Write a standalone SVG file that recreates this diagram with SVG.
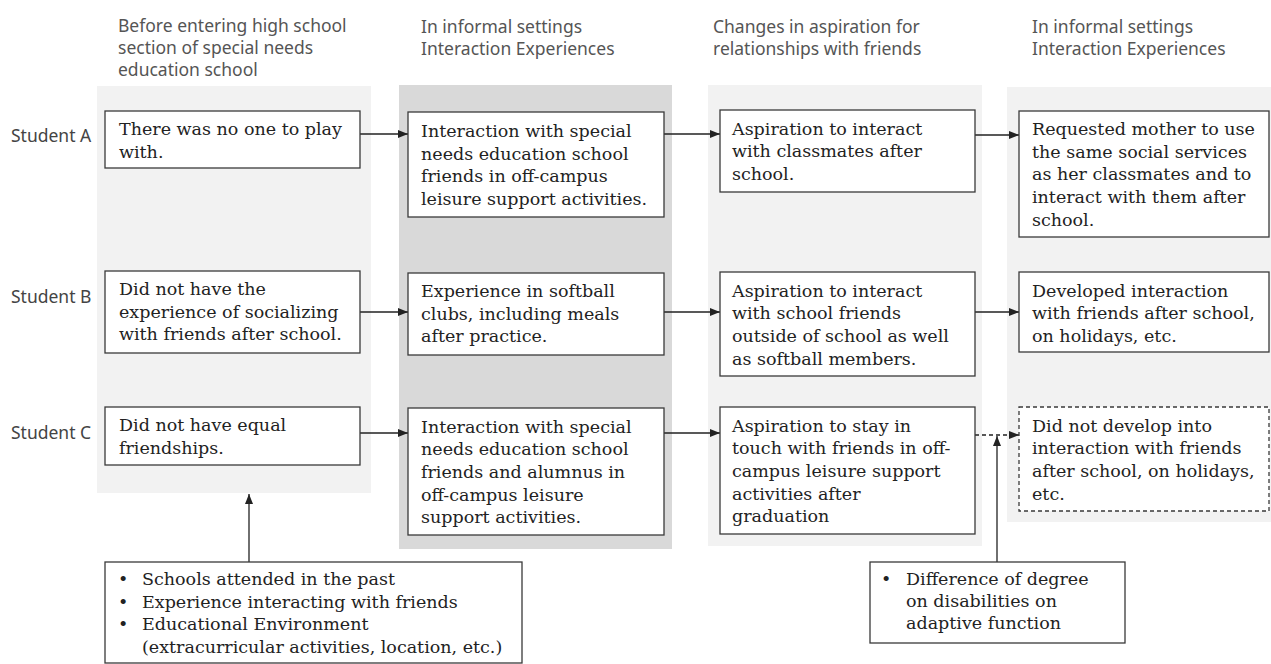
<svg xmlns="http://www.w3.org/2000/svg" width="1271" height="664" viewBox="0 0 1271 664">
<defs>
<style>
.hdr{font-family:"Noto Sans","Liberation Sans",sans-serif;font-size:17.5px;fill:#555}
.lbl{font-family:"Noto Sans","Liberation Sans",sans-serif;font-size:17.5px;fill:#444}
.bx{fill:#fff;stroke:#3a3a3a;stroke-width:1.3}
.dbx{fill:#fff;stroke:#3a3a3a;stroke-width:1.3;stroke-dasharray:4 3}
.t{font-family:"DejaVu Serif","Liberation Serif",serif;font-size:17.5px;fill:#222}
.ln{stroke:#222;stroke-width:1.3;fill:none}
.dln{stroke:#222;stroke-width:1.3;fill:none;stroke-dasharray:4 3}
</style>
<marker id="ah" viewBox="0 0 10 8" refX="10" refY="4" markerWidth="10" markerHeight="8" markerUnits="userSpaceOnUse" orient="auto">
<path d="M0,0 L10,4 L0,8 Z" fill="#222"/>
</marker>
</defs>
<rect width="1271" height="664" fill="#fff"/>
<g id="columns">
<rect x="97" y="86" width="274" height="407" fill="#f2f2f2"/>
<rect x="399" y="85" width="273" height="464" fill="#d9d9d9"/>
<rect x="708" y="85" width="274" height="461" fill="#f2f2f2"/>
<rect x="1007" y="87" width="264" height="435" fill="#f2f2f2"/>
</g>
<g id="headers">
<text class="hdr" x="118" y="32">Before entering high school</text>
<text class="hdr" x="118" y="54">section of special needs</text>
<text class="hdr" x="118" y="76">education school</text>
<text class="hdr" x="421" y="33">In informal settings</text>
<text class="hdr" x="421" y="55">Interaction Experiences</text>
<text class="hdr" x="713" y="33">Changes in aspiration for</text>
<text class="hdr" x="713" y="55">relationships with friends</text>
<text class="hdr" x="1032" y="33">In informal settings</text>
<text class="hdr" x="1032" y="55">Interaction Experiences</text>
</g>
<g id="labels">
<text class="lbl" x="11" y="142">Student A</text>
<text class="lbl" x="11" y="303">Student B</text>
<text class="lbl" x="11" y="439">Student C</text>
</g>
<g id="connectors">
<line class="ln" x1="360" y1="134" x2="408" y2="134" marker-end="url(#ah)"/>
<line class="ln" x1="664" y1="134" x2="720" y2="134" marker-end="url(#ah)"/>
<line class="ln" x1="975" y1="135" x2="1019" y2="135" marker-end="url(#ah)"/>
<line class="ln" x1="360" y1="312" x2="408" y2="312" marker-end="url(#ah)"/>
<line class="ln" x1="664" y1="312" x2="720" y2="312" marker-end="url(#ah)"/>
<line class="ln" x1="975" y1="312" x2="1019" y2="312" marker-end="url(#ah)"/>
<line class="ln" x1="360" y1="433" x2="408" y2="433" marker-end="url(#ah)"/>
<line class="ln" x1="664" y1="433" x2="720" y2="433" marker-end="url(#ah)"/>
<line class="dln" x1="975" y1="435" x2="1019" y2="435" marker-end="url(#ah)"/>
<line class="ln" x1="249" y1="562" x2="249" y2="494" marker-end="url(#ah)"/>
<line class="ln" x1="997" y1="562" x2="997" y2="436" marker-end="url(#ah)"/>
</g>
<g id="a1">
<rect class="bx" x="105" y="111" width="255" height="57"/>
<text class="t" x="119" y="135">There was no one to play</text>
<text class="t" x="119" y="157.5">with.</text>
</g>
<g id="b1">
<rect class="bx" x="105" y="271" width="255" height="82"/>
<text class="t" x="119" y="295">Did not have the</text>
<text class="t" x="119" y="317.5">experience of socializing</text>
<text class="t" x="119" y="340">with friends after school.</text>
</g>
<g id="c1">
<rect class="bx" x="105" y="407" width="255" height="58"/>
<text class="t" x="119" y="431">Did not have equal</text>
<text class="t" x="119" y="453.5">friendships.</text>
</g>
<g id="a2">
<rect class="bx" x="408" y="112" width="256" height="105"/>
<text class="t" x="421" y="137">Interaction with special</text>
<text class="t" x="421" y="159.7">needs education school</text>
<text class="t" x="421" y="182.4">friends in off-campus</text>
<text class="t" x="421" y="205.1">leisure support activities.</text>
</g>
<g id="b2">
<rect class="bx" x="408" y="273" width="256" height="82"/>
<text class="t" x="421" y="297">Experience in softball</text>
<text class="t" x="421" y="319.7">clubs, including meals</text>
<text class="t" x="421" y="342.4">after practice.</text>
</g>
<g id="c2">
<rect class="bx" x="408" y="408" width="256" height="127"/>
<text class="t" x="421" y="432.5">Interaction with special</text>
<text class="t" x="421" y="455.2">needs education school</text>
<text class="t" x="421" y="477.9">friends and alumnus in</text>
<text class="t" x="421" y="500.6">off-campus leisure</text>
<text class="t" x="421" y="523.3">support activities.</text>
</g>
<g id="a3">
<rect class="bx" x="720" y="110" width="255" height="82"/>
<text class="t" x="732" y="134.5">Aspiration to interact</text>
<text class="t" x="732" y="157.2">with classmates after</text>
<text class="t" x="732" y="179.9">school.</text>
</g>
<g id="b3">
<rect class="bx" x="720" y="272" width="255" height="104"/>
<text class="t" x="732" y="296.5">Aspiration to interact</text>
<text class="t" x="732" y="319.2">with school friends</text>
<text class="t" x="732" y="341.9">outside of school as well</text>
<text class="t" x="732" y="364.6">as softball members.</text>
</g>
<g id="c3">
<rect class="bx" x="720" y="407" width="255" height="127"/>
<text class="t" x="732" y="431.5">Aspiration to stay in</text>
<text class="t" x="732" y="454.2">touch with friends in off-</text>
<text class="t" x="732" y="476.9">campus leisure support</text>
<text class="t" x="732" y="499.6">activities after</text>
<text class="t" x="732" y="522.3">graduation</text>
</g>
<g id="a4">
<rect class="bx" x="1019" y="111" width="250" height="126"/>
<text class="t" x="1032" y="135">Requested mother to use</text>
<text class="t" x="1032" y="157.7">the same social services</text>
<text class="t" x="1032" y="180.4">as her classmates and to</text>
<text class="t" x="1032" y="203.1">interact with them after</text>
<text class="t" x="1032" y="225.8">school.</text>
</g>
<g id="b4">
<rect class="bx" x="1019" y="272" width="250" height="80"/>
<text class="t" x="1032" y="296.5">Developed interaction</text>
<text class="t" x="1032" y="319.2">with friends after school,</text>
<text class="t" x="1032" y="341.9">on holidays, etc.</text>
</g>
<g id="c4">
<rect class="dbx" x="1019" y="407" width="250" height="104"/>
<text class="t" x="1032" y="431.5">Did not develop into</text>
<text class="t" x="1032" y="454.2">interaction with friends</text>
<text class="t" x="1032" y="476.9">after school, on holidays,</text>
<text class="t" x="1032" y="499.6">etc.</text>
</g>
<g id="factors1">
<rect class="bx" x="105" y="562" width="417" height="101"/>
<text class="t" x="118" y="585">•</text>
<text class="t" x="142" y="585">Schools attended in the past</text>
<text class="t" x="118" y="607.5">•</text>
<text class="t" x="142" y="607.5">Experience interacting with friends</text>
<text class="t" x="118" y="630">•</text>
<text class="t" x="142" y="630">Educational Environment</text>
<text class="t" x="142" y="652.5">(extracurricular activities, location, etc.)</text>
</g>
<g id="factors2">
<rect class="bx" x="870" y="562" width="255" height="81"/>
<text class="t" x="881" y="585">•</text>
<text class="t" x="906" y="585">Difference of degree</text>
<text class="t" x="906" y="607">on disabilities on</text>
<text class="t" x="906" y="629">adaptive function</text>
</g>
</svg>
